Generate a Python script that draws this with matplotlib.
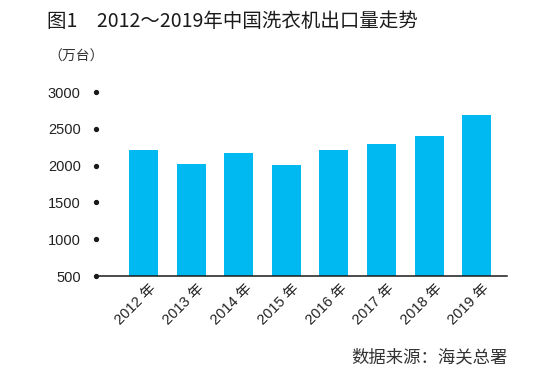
import matplotlib
matplotlib.use('Agg')
import matplotlib.pyplot as plt

plt.rcParams['font.family'] = ['Liberation Sans', 'Noto Sans CJK SC', 'DejaVu Sans']

years = ['2012 年', '2013 年', '2014 年', '2015 年', '2016 年', '2017 年', '2018 年', '2019 年']
exports = [2212, 2022, 2171, 2008, 2212, 2293, 2402, 2687]
yticks = [500, 1000, 1500, 2000, 2500, 3000]

fig = plt.figure(figsize=(5.47, 3.84), dpi=100)
ax = fig.add_axes([0.1755, 0.281, 0.7515, 0.4794])

x = list(range(len(years)))
ax.bar(x, exports, width=0.61, color='#00b9f1', zorder=2)

ax.set_xlim(-1.0, 7.64)
ax.set_ylim(500, 3000)

for s in ['top', 'right', 'left']:
    ax.spines[s].set_visible(False)
ax.spines['bottom'].set_color('#1a1a1a')
ax.spines['bottom'].set_linewidth(1.1)

# dots standing in for the y ticks
ax.plot([-1.0] * len(yticks), yticks, 'o', color='#1a1a1a', ms=2.8, clip_on=False, zorder=3)

ax.set_yticks(yticks)
ax.set_yticklabels([str(v) for v in yticks], fontsize=10.5, color='#222222')
ax.tick_params(axis='y', length=0, pad=11)

ax.set_xticks([i + 0.12 for i in x])
ax.set_xticklabels(years, rotation=45, ha='right', va='top', rotation_mode='anchor',
                   fontsize=10.5, color='#222222')
ax.tick_params(axis='x', length=0, pad=4)

cjk = ['Noto Sans CJK SC', 'DejaVu Sans']
fig.text(0.086, 0.945, '图1　2012～2019年中国洗衣机出口量走势', fontsize=14,
         fontweight='medium', family=cjk, color='#1a1a1a', va='center', ha='left')
fig.text(0.088, 0.852, '（万台）', fontsize=10, family=cjk,
         color='#333333', va='center', ha='left')
fig.text(0.929, 0.07, '数据来源：海关总署', fontsize=12.5, family=cjk,
         color='#333333', va='center', ha='right')

fig.savefig('out.png', dpi=100)
